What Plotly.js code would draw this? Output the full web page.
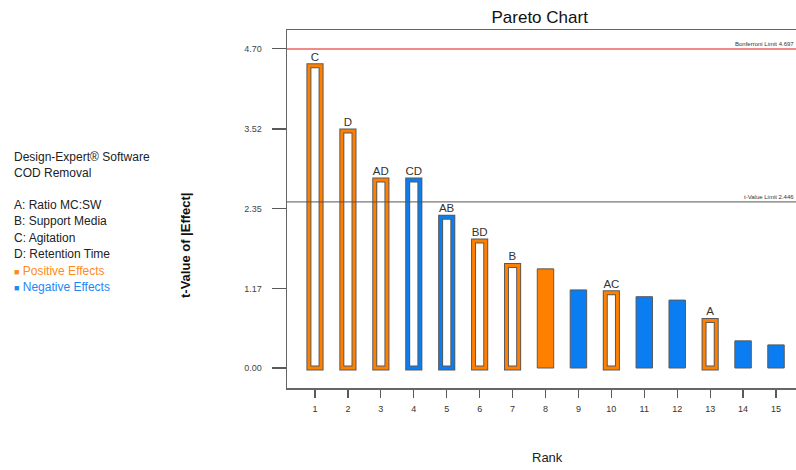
<!DOCTYPE html>
<html>
<head>
<meta charset="utf-8">
<script src="https://cdn.plot.ly/plotly-3.0.1.min.js"></script>
<style>html,body{margin:0;padding:0;background:#fff;}#chart{width:796px;height:470px;}</style>
</head>
<body>
<div id="chart"></div>
<script>
// ---- data ----
const ranks = [1,2,3,4,5,6,7,8,9,10,11,12,13,14,15];
const termLabels = ["C","D","AD","CD","AB","BD","B","","","AC","","","A","",""];
const tValues = [4.45,3.49,2.77,2.77,2.22,1.87,1.51,1.46,1.15,1.11,1.05,1.00,0.70,0.40,0.34];
const effectSign = ["+","+","+","-","-","+","+","+","-","+","-","-","+","-","-"];
const yTickVals = [0,1.17,2.35,3.52,4.70];
const yTickText = ["0.00","1.17","2.35","3.52","4.70"];
const bonferroniLimit = 4.697;
const tValueLimit = 2.446;
const factorLines = ["A: Ratio MC:SW","B: Support Media","C: Agitation","D: Retention Time"];
const headerLines = ["Design-Expert® Software","COD Removal"];

const ORANGE = "#FF7F00", BLUE = "#0A7DF2", EDGE = "#5a5a5a";
const signColor = s => s === "+" ? ORANGE : BLUE;

const modelIdx = ranks.map((r,i)=>i).filter(i => termLabels[i] !== "");
const otherIdx = ranks.map((r,i)=>i).filter(i => termLabels[i] === "");
const pick = (arr, idx) => idx.map(i => arr[i]);

const traces = [
  { type:"bar", x:pick(ranks,otherIdx), y:pick(tValues,otherIdx), width:0.5,
    marker:{color:pick(effectSign,otherIdx).map(signColor), line:{color:EDGE,width:1}},
    hoverinfo:"skip", showlegend:false },
  { type:"bar", x:pick(ranks,modelIdx), y:pick(tValues,modelIdx), width:0.37,
    marker:{color:"#ffffff", line:{color:EDGE,width:5}},
    hoverinfo:"skip", showlegend:false },
  { type:"bar", x:pick(ranks,modelIdx), y:pick(tValues,modelIdx), width:0.37,
    marker:{color:"rgba(255,255,255,0)", line:{color:pick(effectSign,modelIdx).map(signColor),width:3}},
    text:pick(termLabels,modelIdx), textposition:"outside", cliponaxis:false, constraintext:"none",
    textfont:{family:"Liberation Sans, Arial, sans-serif", size:11.5, color:"#333"},
    hoverinfo:"skip", showlegend:false }
];

const annotations = [];
// y-axis title
annotations.push({xref:"paper", yref:"paper", x:-0.198, y:0.40, xanchor:"center", yanchor:"middle",
  text:"<b>t-Value of |Effect|</b>", textangle:-90, showarrow:false,
  font:{family:"Liberation Sans, Arial, sans-serif", size:13, color:"#111"}});
// x-axis title
annotations.push({xref:"paper", yref:"paper", x:0.511, y:-0.193, xanchor:"center", yanchor:"middle",
  text:"Rank", showarrow:false, font:{family:"Liberation Sans, Arial, sans-serif", size:13, color:"#222"}});
// limit labels
annotations.push({xref:"paper", yref:"y", x:1.0, y:bonferroniLimit, xanchor:"right", yanchor:"bottom",
  text:"Bonferroni Limit " + bonferroniLimit, showarrow:false,
  font:{family:"Liberation Sans, Arial, sans-serif", size:6, color:"#333"}});
annotations.push({xref:"paper", yref:"y", x:1.0, y:tValueLimit, xanchor:"right", yanchor:"bottom",
  text:"t-Value Limit " + tValueLimit, showarrow:false,
  font:{family:"Liberation Sans, Arial, sans-serif", size:6, color:"#333"}});
// left info block
const leftX = (12-287)/509;
const lineY = px => (388-px)/358;
const infoFont = {family:"Liberation Sans, Arial, sans-serif", size:12, color:"#222"};
headerLines.forEach((t,i)=>annotations.push({xref:"paper", yref:"paper", x:leftX, y:lineY(157+i*16.3),
  xanchor:"left", yanchor:"middle", text:t, showarrow:false, font:infoFont}));
factorLines.forEach((t,i)=>annotations.push({xref:"paper", yref:"paper", x:leftX, y:lineY(205+i*16.3),
  xanchor:"left", yanchor:"middle", text:t, showarrow:false, font:infoFont}));
annotations.push({xref:"paper", yref:"paper", x:leftX, y:lineY(270.5), xanchor:"left", yanchor:"middle",
  text:"<span style='font-size:9px'>■</span> Positive Effects", showarrow:false,
  font:{family:"Liberation Sans, Arial, sans-serif", size:12, color:"#FF8A1C"}});
annotations.push({xref:"paper", yref:"paper", x:leftX, y:lineY(287), xanchor:"left", yanchor:"middle",
  text:"<span style='font-size:9px'>■</span> Negative Effects", showarrow:false,
  font:{family:"Liberation Sans, Arial, sans-serif", size:12, color:"#1E88F5"}});

const layout = {
  width:796, height:470,
  margin:{l:287, r:0, t:30, b:82, pad:0},
  paper_bgcolor:"#fff", plot_bgcolor:"#fff",
  barmode:"overlay",
  title:{text:"Pareto Chart", x:0.678, xref:"container", xanchor:"center", y:0.963, yref:"container", yanchor:"middle",
    font:{family:"Liberation Sans, Arial, sans-serif", size:17, color:"#111"}},
  xaxis:{range:[0.15,15.607], tickvals:ranks, ticktext:ranks.map(String), ticks:"outside", ticklen:8,
    tickcolor:EDGE, tickwidth:1.2, showline:true, linecolor:"#666", linewidth:1.5, mirror:true,
    showgrid:false, zeroline:false, ticklabelstandoff:4,
    tickfont:{family:"Liberation Sans, Arial, sans-serif", size:9, color:"#333"}},
  yaxis:{range:[-0.2946,4.978], tickvals:yTickVals, ticktext:yTickText, ticks:"outside", ticklen:14,
    tickcolor:EDGE, tickwidth:1.2, showline:true, linecolor:"#666", linewidth:1.5,
    showgrid:false, zeroline:false, ticklabelstandoff:8,
    tickfont:{family:"Liberation Sans, Arial, sans-serif", size:9, color:"#444"}},
  shapes:[
    {type:"line", xref:"paper", yref:"y", x0:0, x1:1, y0:bonferroniLimit, y1:bonferroniLimit,
      line:{color:"#F28A8A", width:2}},
    {type:"line", xref:"paper", yref:"y", x0:0, x1:1, y0:tValueLimit, y1:tValueLimit,
      line:{color:"#555", width:1}}
  ],
  annotations:annotations
};

Plotly.newPlot("chart", traces, layout, {displayModeBar:false, staticPlot:true});
</script>
</body>
</html>
